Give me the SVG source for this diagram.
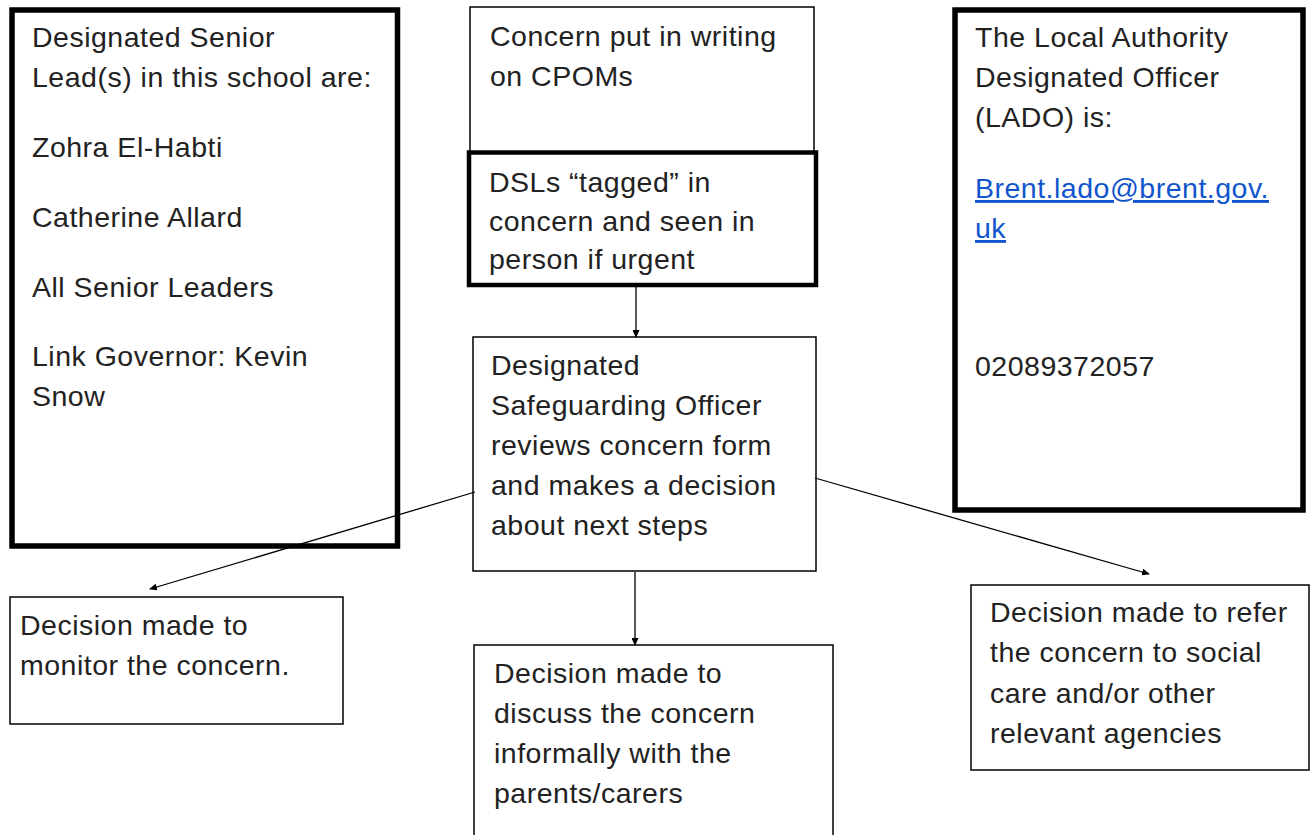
<svg xmlns="http://www.w3.org/2000/svg" width="1311" height="835" viewBox="0 0 1311 835">
<style>
text{font-family:"Liberation Sans",Arial,sans-serif;font-size:28.5px;letter-spacing:0.5px;fill:#222}
.thick{fill:#fff;stroke:#000;stroke-width:5.5}
.thin{fill:#fff;stroke:#000;stroke-width:1.5}
.link{fill:#1155cc;text-decoration:underline}
.conn{stroke:#000;stroke-width:1.3;fill:none;marker-end:url(#ah)}
</style>
<defs>
<marker id="ah" markerUnits="userSpaceOnUse" markerWidth="8" markerHeight="7" refX="7" refY="3.5" orient="auto">
<path d="M0,0 L8,3.5 L0,7 Z" fill="#000"/>
</marker>
</defs>
<rect width="1311" height="835" fill="#fff"/>
<g id="dsl-list">
<rect class="thick" x="12" y="10" width="385.5" height="536"/>
<text x="32" y="47">Designated Senior</text>
<text x="32" y="87">Lead(s) in this school are:</text>
<text x="32" y="157">Zohra El-Habti</text>
<text x="32" y="227">Catherine Allard</text>
<text x="32" y="297">All Senior Leaders</text>
<text x="32" y="366">Link Governor: Kevin</text>
<text x="32" y="406">Snow</text>
</g>
<g id="concern-writing">
<rect class="thin" x="470" y="7" width="344" height="146"/>
<text x="490" y="46">Concern put in writing</text>
<text x="490" y="86">on CPOMs</text>
</g>
<g id="dsl-tagged">
<rect class="thick" x="469" y="152.5" width="347" height="132.5" style="stroke-width:4.5"/>
<text x="489" y="192">DSLs “tagged” in</text>
<text x="489" y="231">concern and seen in</text>
<text x="489" y="269">person if urgent</text>
</g>
<g id="lado">
<rect class="thick" x="955" y="10" width="348" height="500"/>
<text x="975" y="47">The Local Authority</text>
<text x="975" y="87">Designated Officer</text>
<text x="975" y="127">(LADO) is:</text>
<text x="975" y="198" class="link">Brent.lado@brent.gov.</text>
<text x="975" y="238" class="link">uk</text>
<text x="975" y="376">02089372057</text>
</g>
<g id="dso-review">
<rect class="thin" x="473" y="337" width="343" height="234"/>
<text x="491" y="375">Designated</text>
<text x="491" y="415">Safeguarding Officer</text>
<text x="491" y="455">reviews concern form</text>
<text x="491" y="495">and makes a decision</text>
<text x="491" y="535">about next steps</text>
</g>
<g id="monitor">
<rect class="thin" x="10" y="597" width="333" height="127"/>
<text x="20" y="635">Decision made to</text>
<text x="20" y="675">monitor the concern.</text>
</g>
<g id="discuss">
<rect class="thin" x="474" y="645" width="359" height="200"/>
<text x="494" y="683">Decision made to</text>
<text x="494" y="723">discuss the concern</text>
<text x="494" y="763">informally with the</text>
<text x="494" y="803">parents/carers</text>
</g>
<g id="refer">
<rect class="thin" x="971" y="585" width="338" height="185"/>
<text x="990" y="622">Decision made to refer</text>
<text x="990" y="662">the concern to social</text>
<text x="990" y="703">care and/or other</text>
<text x="990" y="743">relevant agencies</text>
</g>
<g id="connectors">
<line class="conn" x1="636" y1="287" x2="636" y2="337"/>
<line class="conn" x1="635" y1="572" x2="635" y2="645"/>
<line class="conn" x1="475" y1="492" x2="150" y2="589"/>
<line class="conn" x1="815" y1="478" x2="1149" y2="574"/>
</g>
</svg>
